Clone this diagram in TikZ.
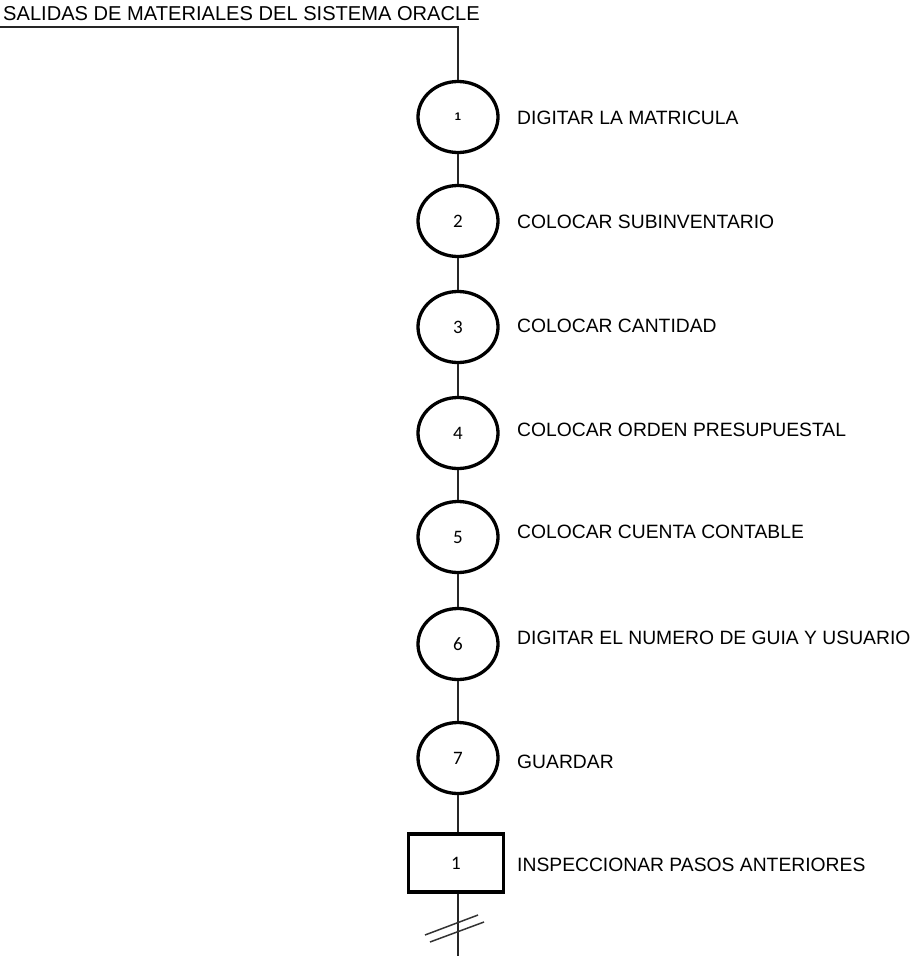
\documentclass[tikz,border=0pt]{standalone}
\usepackage{fontspec}
\setmainfont{Liberation Sans}
\newfontfamily\numfont{Carlito}
\usetikzlibrary{shapes.geometric}
\begin{document}
\begin{tikzpicture}[x=1pt,y=-1pt,
  opcircle/.style={ellipse,draw,line width=3.3pt,minimum width=80pt,minimum height=71pt,inner sep=0pt,font=\numfont\fontsize{19}{19}\selectfont},
  inspbox/.style={rectangle,draw,line width=3.5pt,minimum width=95pt,minimum height=58pt,inner sep=0pt,font=\numfont\fontsize{19}{19}\selectfont},
  steptext/.style={anchor=west,inner sep=0pt,font=\fontsize{19.3}{19.3}\selectfont},
  flowline/.style={line width=2.2pt,draw=black!85}]
\useasboundingbox (0,0) rectangle (914,956);

% title with its underline
\node[anchor=west,inner sep=0pt,font=\fontsize{20.1}{20.1}\selectfont] (title) at (3,14) {SALIDAS DE MATERIALES DEL SISTEMA ORACLE};
\coordinate (ul) at (0,27);

% operations
\node[opcircle,font=\bfseries\fontsize{11}{11}\selectfont] (c1) at (458,117) {1};
\node[opcircle] (c2) at (458,221) {2};
\node[opcircle] (c3) at (458,327) {3};
\node[opcircle] (c4) at (458,433) {4};
\node[opcircle] (c5) at (458,537) {5};
\node[opcircle] (c6) at (458,644) {6};
\node[opcircle] (c7) at (458,758) {7};
% inspection
\node[inspbox] (r1) at (456,863) {1};
\coordinate (end) at (458,956);

% step descriptions
\node[steptext] (t1) at (517,118) {DIGITAR LA MATRICULA};
\node[steptext] (t2) at (517,222) {COLOCAR SUBINVENTARIO};
\node[steptext] (t3) at (517,326) {COLOCAR CANTIDAD};
\node[steptext] (t4) at (517,430) {COLOCAR ORDEN PRESUPUESTAL};
\node[steptext] (t5) at (517,532) {COLOCAR CUENTA CONTABLE};
\node[steptext] (t6) at (517,638) {DIGITAR EL NUMERO DE GUIA Y USUARIO};
\node[steptext] (t7) at (517,762) {GUARDAR};
\node[steptext] (t8) at (517,865) {INSPECCIONAR PASOS ANTERIORES};

% connectors
\draw[flowline] (ul) -| (c1.north);
\draw[flowline] (c1) -- (c2);
\draw[flowline] (c2) -- (c3);
\draw[flowline] (c3) -- (c4);
\draw[flowline] (c4) -- (c5);
\draw[flowline] (c5) -- (c6);
\draw[flowline] (c6) -- (c7);
\draw[flowline] (c7.south) -- (r1.north -| c7.south);
\draw[flowline] (r1.south -| end) -- (end);

% break marks on the outgoing line
\draw[line width=1.5pt,draw=black!80] (425,935) -- (478,915);
\draw[line width=1.5pt,draw=black!80] (430,942) -- (484,922);
\end{tikzpicture}
\end{document}
